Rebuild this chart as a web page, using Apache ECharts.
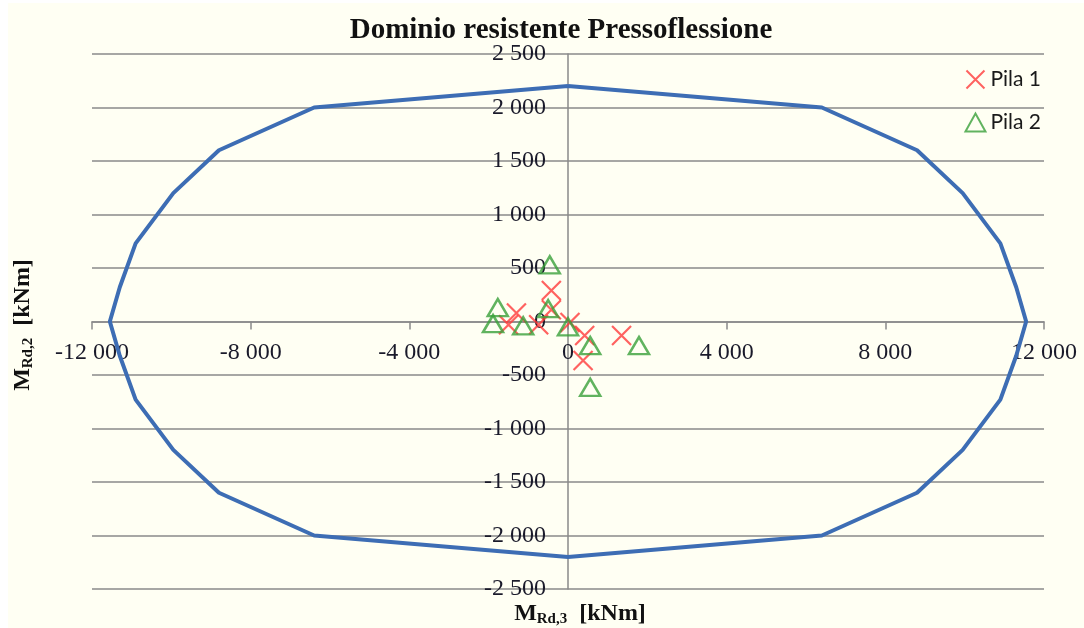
<!DOCTYPE html>
<html>
<head>
<meta charset="utf-8">
<script src="https://cdn.jsdelivr.net/npm/echarts@6/dist/echarts.min.js"></script>
<style>
  html, body { margin: 0; padding: 0; background: #fff; }
  #chart { width: 1084px; height: 628px; }
</style>
</head>
<body>
<div id="chart"></div>
<script>
// dominio resistente (M3, M2)
const domainM3 = [0, 6400, 8800, 9950, 10900, 11300, 11550, 11300, 10900, 9950, 8800, 6400, 0,
  -6400, -8800, -9950, -10900, -11300, -11550, -11300, -10900, -9950, -8800, -6400, 0];
const domainM2 = [2200, 2000, 1600, 1200, 730, 320, 0, -320, -730, -1200, -1600, -2000, -2200,
  -2000, -1600, -1200, -730, -320, 0, 320, 730, 1200, 1600, 2000, 2200];

// sollecitazioni
const pila1M3 = [-420, -1300, -1500, -420, -740, 50, 420, 1350, 380];
const pila1M2 = [290, 80, -30, 110, -30, -10, -130, -130, -365];
const pila2M3 = [-1770, -1890, -1130, -460, -500, 0, 560, 1790, 560];
const pila2M2 = [130, -20, -40, 530, 120, -50, -225, -225, -615];

const xTicks = [-12000, -8000, -4000, 0, 4000, 8000, 12000];
const yTicks = [-2500, -2000, -1500, -1000, -500, 0, 500, 1000, 1500, 2000, 2500];

function pairs(a, b) {
  return a.map((v, i) => [v, b[i]]);
}
function fmt(v) {
  const s = Math.abs(v).toString().replace(/\B(?=(\d{3})+(?!\d))/g, ' ');
  return (v < 0 ? '-' : '') + s;
}

const serif = '"Liberation Serif", "Times New Roman", serif';
const crossPath = 'path://M0,0L10,10M10,0L0,10';

// griglia (px)
const gLeft = 92, gRight = 40, gTop = 54, gBottom = 39;
const gW = 1084 - gLeft - gRight, gH = 628 - gTop - gBottom;
const xMin = xTicks[0], xMax = xTicks[xTicks.length - 1];
const yMin = yTicks[0], yMax = yTicks[yTicks.length - 1];
// sposta gli assi sullo zero
const xAxisOffset = -gH * (0 - yMin) / (yMax - yMin);
const yAxisOffset = -gW * (0 - xMin) / (xMax - xMin);

(function () {
  const myChart = echarts.init(document.getElementById('chart'));
  let option = {
    backgroundColor: '#fffff3',
    animation: false,
    title: {
      text: 'Dominio resistente Pressoflessione',
      left: 556,
      top: 11,
      textAlign: 'center',
      textStyle: {
        fontFamily: serif,
        fontWeight: 'bold',
        fontSize: 29,
        color: '#111'
      }
    },
    legend: {
      data: ['Pila 1', 'Pila 2'],
      orient: 'vertical',
      right: 38,
      top: 64,
      itemGap: 22,
      itemWidth: 20,
      itemHeight: 18,
      align: 'left',
      textStyle: {
        fontFamily: 'Lato, sans-serif',
        fontSize: 21,
        color: '#1a1a1a'
      }
    },
    grid: {
      left: gLeft,
      right: gRight,
      top: gTop,
      bottom: gBottom
    },
    xAxis: {
      type: 'value',
      position: 'bottom',
      offset: xAxisOffset,
      min: xMin,
      max: xMax,
      interval: 4000,
      axisLine: {
        onZero: false,
        lineStyle: { color: '#8a8a8a', width: 1.5 }
      },
      axisTick: {
        show: true,
        length: 8,
        lineStyle: { color: '#8a8a8a', width: 1.5 }
      },
      splitLine: { show: false },
      axisLabel: {
        margin: 19,
        fontFamily: serif,
        fontSize: 24,
        color: '#1a1a2a',
        formatter: fmt,
        showMinLabel: true,
        showMaxLabel: true
      }
    },
    yAxis: {
      type: 'value',
      position: 'left',
      offset: yAxisOffset,
      min: yMin,
      max: yMax,
      interval: 500,
      axisLine: {
        show: true,
        onZero: false,
        lineStyle: { color: '#8a8a8a', width: 1.5 }
      },
      axisTick: { show: false },
      splitLine: {
        lineStyle: { color: '#8a8a8a', width: 1.5 }
      },
      axisLabel: {
        margin: 22,
        fontFamily: serif,
        fontSize: 24,
        color: '#1a1a2a',
        formatter: fmt
      }
    },
    graphic: [
      { type: 'rect', shape: { x: 0, y: 0, width: 8, height: 628 }, style: { fill: '#fff' }, silent: true },
      { type: 'rect', shape: { x: 0, y: 0, width: 1084, height: 3 }, style: { fill: '#fff' }, silent: true },
      {
        type: 'text',
        x: 580,
        y: 614,
        style: {
          text: '{m|M}{s|Rd,3}{m|  [kNm]}',
          align: 'center',
          verticalAlign: 'middle',
          rich: {
            m: { fontFamily: serif, fontWeight: 'bold', fontSize: 24, fill: '#111' },
            s: { fontFamily: serif, fontWeight: 'bold', fontSize: 15, fill: '#111', padding: [10, 0, 0, 0] }
          }
        }
      },
      {
        type: 'text',
        x: 23,
        y: 325,
        rotation: Math.PI / 2,
        style: {
          text: '{m|M}{s|Rd,2}{m|  [kNm]}',
          align: 'center',
          verticalAlign: 'middle',
          rich: {
            m: { fontFamily: serif, fontWeight: 'bold', fontSize: 24, fill: '#111' },
            s: { fontFamily: serif, fontWeight: 'bold', fontSize: 15, fill: '#111', padding: [10, 0, 0, 0] }
          }
        }
      }
    ],
    series: [
      {
        name: 'Dominio',
        type: 'line',
        data: pairs(domainM3, domainM2),
        showSymbol: false,
        symbol: 'none',
        lineStyle: { color: '#3d6db4', width: 4 },
        z: 2
      },
      {
        name: 'Pila 1',
        type: 'scatter',
        data: pairs(pila1M3, pila1M2),
        symbol: crossPath,
        symbolSize: 19,
        itemStyle: {
          color: 'transparent',
          borderColor: '#ff3b3b',
          borderWidth: 2.2
        },
        z: 3
      },
      {
        name: 'Pila 2',
        type: 'scatter',
        data: pairs(pila2M3, pila2M2),
        symbol: 'triangle',
        symbolSize: [20, 17],
        itemStyle: {
          color: 'transparent',
          borderColor: '#3aa03a',
          borderWidth: 2.5
        },
        z: 4
      }
    ]
  };
  myChart.setOption(option);
  window.addEventListener('resize', function () {
    myChart.resize();
  });
})();
</script>
</body>
</html>
